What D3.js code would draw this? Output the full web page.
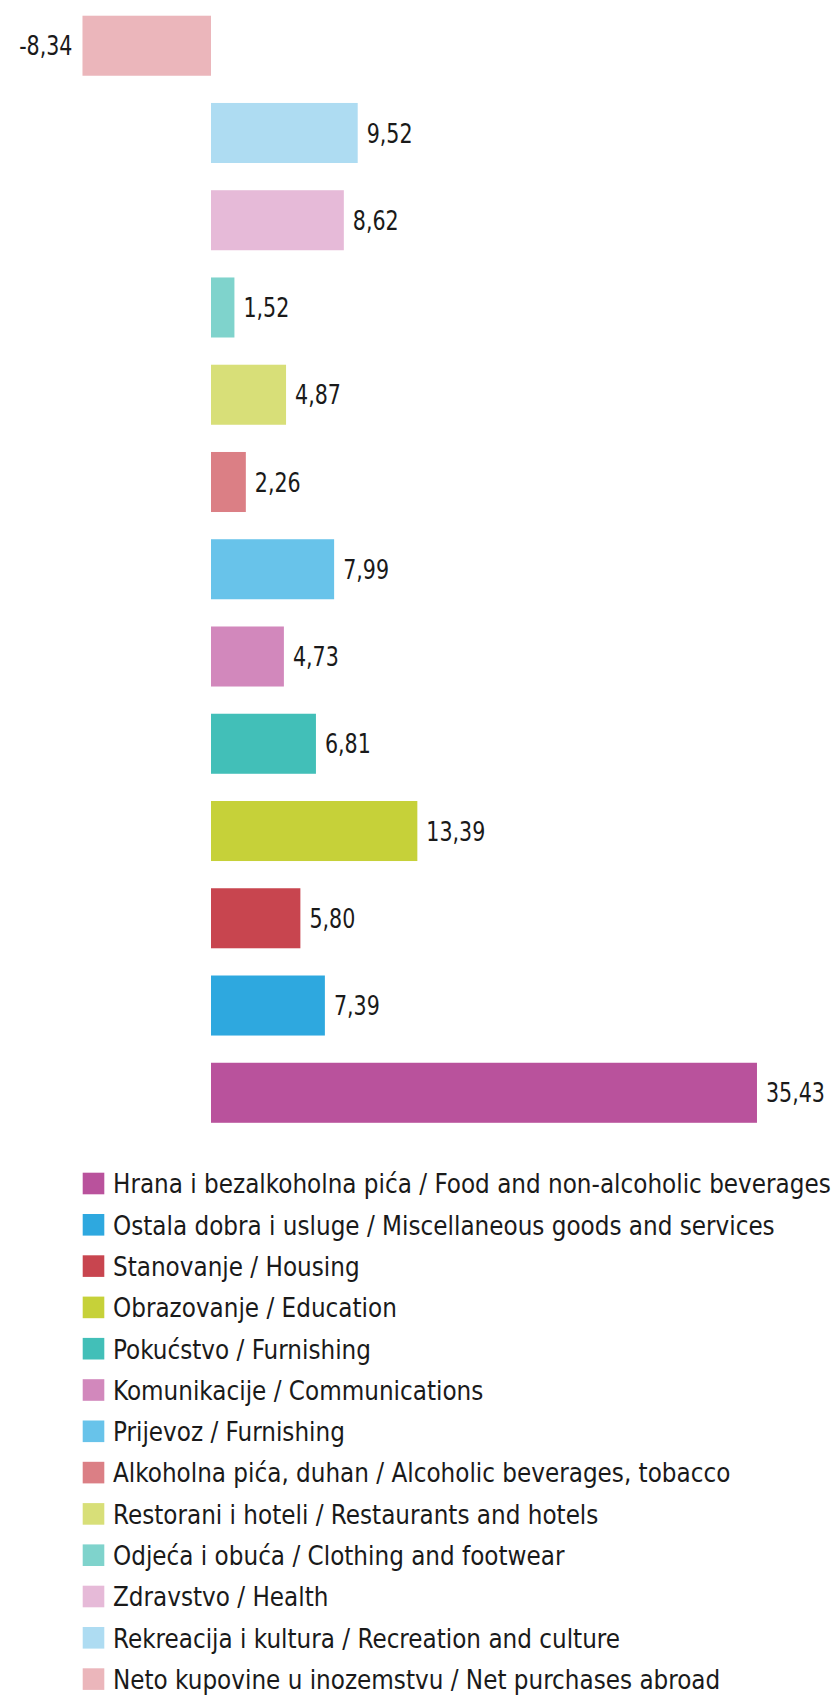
<!DOCTYPE html>
<html>
<head>
<meta charset="utf-8">
<script src="https://cdn.jsdelivr.net/npm/d3@7"></script>
<style>
  html, body { margin: 0; padding: 0; background: #ffffff; }
  svg { display: block; }
  text { font-family: "DejaVu Sans Condensed", "DejaVu Sans", sans-serif; fill: #1a1a1a; }
</style>
</head>
<body>
<svg id="chart" width="833" height="1696"></svg>
<script>
// Bars, listed top to bottom
const categories = [
  "Neto kupovine u inozemstvu / Net purchases abroad",
  "Rekreacija i kultura / Recreation and culture",
  "Zdravstvo / Health",
  "Odjeća i obuća / Clothing and footwear",
  "Restorani i hoteli / Restaurants and hotels",
  "Alkoholna pića, duhan / Alcoholic beverages, tobacco",
  "Prijevoz / Furnishing",
  "Komunikacije / Communications",
  "Pokućstvo / Furnishing",
  "Obrazovanje / Education",
  "Stanovanje / Housing",
  "Ostala dobra i usluge / Miscellaneous goods and services",
  "Hrana i bezalkoholna pića / Food and non-alcoholic beverages"
];
const values = [-8.34, 9.52, 8.62, 1.52, 4.87, 2.26, 7.99, 4.73, 6.81, 13.39, 5.80, 7.39, 35.43];
const colors = ["#ebb6bb", "#aedcf2", "#e6bad8", "#7fd3cc", "#d8df78", "#db7f85", "#68c3ea",
                "#d288bc", "#42bfb8", "#c6d139", "#c8454f", "#2ea8df", "#b9529c"];
// Legend lists the categories bottom bar first
const legendOrder = categories.slice().reverse();

const data = categories.map((c, i) => ({ cat: c, value: values[i], color: colors[i] }));
const colorOf = new Map(data.map(d => [d.cat, d.color]));

const svg = d3.select("#chart");
const fmt = d3.formatLocale({ decimal: ",", thousands: ".", grouping: [3], currency: ["", ""], minus: "-" }).format(".2f");

const x = d3.scaleLinear().domain([-10, 40]).range([56.9, 827.4]);
const y = d3.scaleBand().domain(categories).range([2.1, 1136.4]).paddingInner(0.312).paddingOuter(0.156);

const FS = 26.5;
const capH = FS * 0.729;

// horizontal condensing factors so the texts span the reference widths
function condense(str, target) {
  const probe = svg.append("text").attr("font-size", FS).text(str);
  const w = probe.node().getComputedTextLength();
  probe.remove();
  return target / w;
}
const sxLegend = condense(legendOrder[0], 718);
const sxLabel = condense(fmt(d3.max(values)), 59);

const bars = svg.append("g");
bars.selectAll("rect").data(data).join("rect")
  .attr("x", d => x(Math.min(0, d.value)))
  .attr("y", d => y(d.cat))
  .attr("width", d => Math.abs(x(d.value) - x(0)))
  .attr("height", y.bandwidth())
  .attr("fill", d => d.color);

bars.selectAll("g.lab").data(data).join("g")
  .attr("class", "lab")
  .attr("transform", d => {
    const tx = d.value < 0 ? x(d.value) - 10 : x(d.value) + 9;
    const ty = y(d.cat) + y.bandwidth() / 2 + capH / 2;
    return `translate(${tx},${ty}) scale(${sxLabel},1)`;
  })
  .append("text")
  .attr("text-anchor", d => d.value < 0 ? "end" : "start")
  .attr("font-size", FS)
  .text(d => fmt(d.value));

const ly = d3.scaleLinear().domain([0, legendOrder.length - 1]).range([1172.7, 1668.3]);
const leg = svg.append("g");
const rows = leg.selectAll("g").data(legendOrder).join("g")
  .attr("transform", (d, i) => `translate(0,${ly(i)})`);
rows.append("rect")
  .attr("x", 82.7).attr("y", 0).attr("width", 21.6).attr("height", 21.6)
  .attr("fill", d => colorOf.get(d));
rows.append("g")
  .attr("transform", `translate(113,20.6) scale(${sxLegend},1)`)
  .append("text")
  .attr("font-size", FS)
  .text(d => d);
</script>
</body>
</html>
